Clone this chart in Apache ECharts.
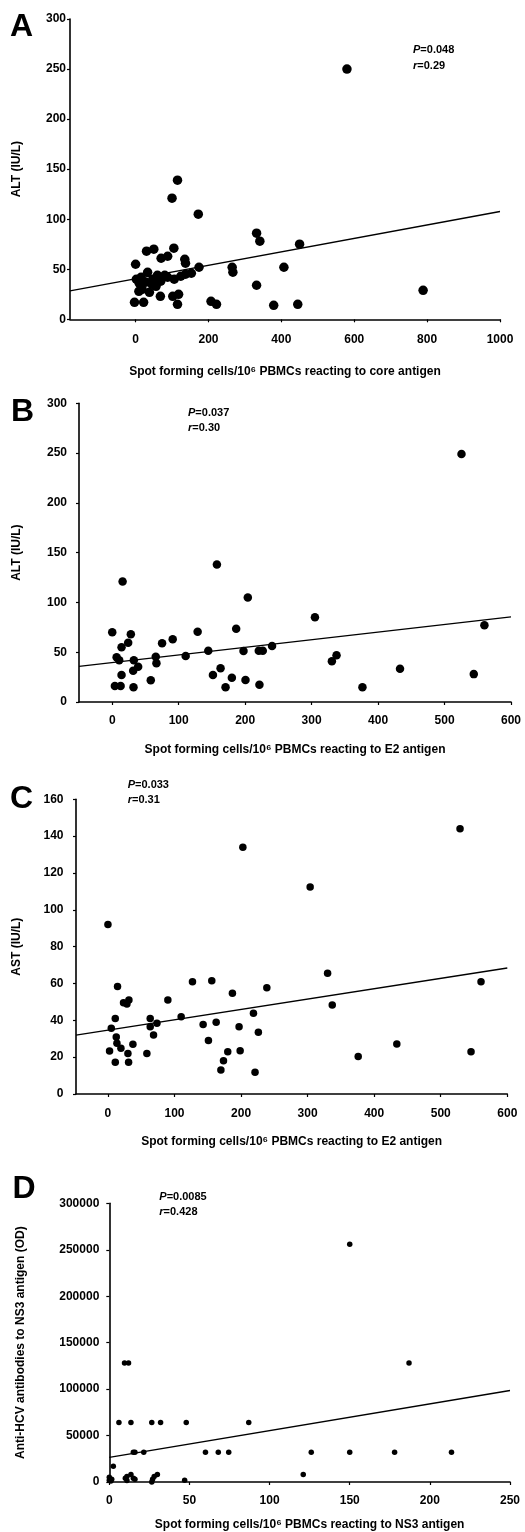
<!DOCTYPE html>
<html><head><meta charset="utf-8">
<script src="https://cdn.jsdelivr.net/npm/echarts@6/dist/echarts.min.js"></script>
<style>html,body{margin:0;padding:0;background:#fff}#c{width:525px;height:1532px}</style>
</head><body><div id="c"></div>
<script>
// ---- Panel A: ALT vs core antigen ----
const pointsA = [[-3,17],[22,17],[0,55],[2,40],[10,36],[9,28],[18,30],[15,42],[28,37],[33,47],[38,27],[30,68],[50,70],[47,40],[56,33],[60,44],[69,38],[70,61],[68,23],[88,63],[88,42],[105,71],[106,40],[100,121],[115,139],[102,23],[118,25],[115,15],[124,43],[135,60],[137,56],[137,45],[153,46],[172,105],[174,52],[265,52],[267,47],[207,18],[222,15],[332,86],[341,78],[332,34],[379,14],[407,52],[445,15],[450,75],[580,250],[789,29],[80,44],[45,35]];
const lineA = [[-180,28.3],[1000,107.7]];
const xTicksA = [0,200,400,600,800,1000];
// ---- Panel B: ALT vs E2 antigen ----
const pointsB = [[157.5,138],[15.6,121],[204,105],[305,85],[0,70],[28,68],[24,59.6],[14,55],[75,59],[91,63],[128.5,70.6],[186.5,73.6],[144.5,51.5],[197.5,51.2],[220.5,51.5],[226.5,51.5],[240.5,56.2],[110.5,46.2],[65.5,45.5],[66.5,38.9],[6.6,45],[10.5,42],[32.5,42],[39,35.5],[31.5,31.4],[14,27],[58,21.8],[151.5,27],[163,33.8],[180,24.4],[200.5,22],[221.5,17.4],[170.5,14.8],[4,16],[12.6,16],[32,14.8],[330.5,41],[337.5,47],[376.5,14.8],[433,33.5],[525.5,249],[544,28],[560,77]];
const lineB = [[-50,35.8],[600,85.4]];
const xTicksB = [0,100,200,300,400,500,600];
// ---- Panel C: AST vs E2 antigen ----
const pointsC = [[0,92],[529,144],[202.7,134],[303.8,112.4],[330,65.5],[560.5,61],[337,48.3],[14.4,58.3],[127,61],[156,61.5],[187,54.7],[238.7,57.7],[90,51],[23.4,49.6],[28.5,48.9],[31.5,51],[11,41],[63.5,41],[73.6,38.4],[63.5,36.5],[68.5,32],[110,42],[143,37.8],[162.6,38.9],[151,29],[197,36.5],[218.6,43.8],[226,33.5],[5,35.7],[12.5,31],[13.5,27.5],[19.5,24.8],[2.4,23.3],[30,22],[37.5,27],[11,17.2],[31,17.2],[58.5,22],[198.6,23.5],[180,23],[173.6,18],[169.7,13],[221,11.8],[376,20.3],[434,27.1],[545.5,23]];
const lineC = [[-48,32],[600,68.4]];
const xTicksC = [0,100,200,300,400,500,600];
// ---- Panel D: anti-HCV vs NS3 antigen ----
const pointsD = [[0,2000],[0,5000],[1,1000],[1.5,3000],[2.5,17000],[10,4000],[11,1500],[11,6000],[13.5,8000],[15,4000],[16,3000],[26.5,0],[27,3000],[28,6000],[30,8000],[47,2000],[6,64000],[13.5,64000],[26.5,64000],[32,64000],[48,64000],[87,64000],[15,32000],[16,32000],[21.5,32000],[60,32000],[68,32000],[74.5,32000],[126,32000],[150,32000],[178,32000],[213.5,32000],[121,8000],[9.5,128000],[12,128000],[187,128000],[150,256000]];
const lineD = [[0,26450],[250,98500]];
const xTicksD = [0,50,100,150,200,250];

const titlesX = [
  'Spot forming cells/10\u2076 PBMCs reacting to core antigen',
  'Spot forming cells/10\u2076 PBMCs reacting to E2 antigen',
  'Spot forming cells/10\u2076 PBMCs reacting to E2 antigen',
  'Spot forming cells/10\u2076 PBMCs reacting to NS3 antigen'
];
const titlesY = ['ALT (IU/L)','ALT (IU/L)','AST (IU/L)','Anti-HCV antibodies to NS3 antigen (OD)'];
const stats = [['0.048','0.29'],['0.037','0.30'],['0.033','0.31'],['0.0085','0.428']];
const letters = ['A','B','C','D'];

const FF = '"Liberation Sans", Arial, sans-serif';
const grids = [
  {left:70, top:19, width:430, height:300.3},
  {left:79, top:403.3, width:432, height:298.7},
  {left:76, top:799.3, width:431.3, height:294.7},
  {left:109.3, top:1203.3, width:400.7, height:279}
];
const xr = [[-180,1000],[-50,600],[-48,600],[0,250]];
const yr = [[0,300,50],[0,300,50],[0,160,20],[0,300000,50000]];
const xt = [xTicksA,xTicksB,xTicksC,xTicksD];
const xLabelMargin = [14,13,14,13];
const yLabelMargin = [4,12,12.5,10];
const xNameGap = [46,42,42,37];
const yNameGap = [47,56,53,83];
const sizes = [9.5,8.5,7.5,5.5];
const pts = [pointsA,pointsB,pointsC,pointsD];
const lines = [lineA,lineB,lineC,lineD];
const statPos = [[413,42.5],[188,405],[127.7,777],[159.3,1189]];
const letterPos = [[21.5,27],[22.5,412],[21.5,799.5],[24,1189]];

const lineStyleAxis = {color:'#000', width:1.6};
const xAxis = [], yAxis = [], series = [], title = [], graphic = [];
for (let i=0;i<4;i++){
  xAxis.push({
    type:'value', gridIndex:i, min:xr[i][0], max:xr[i][1],
    name:titlesX[i], nameLocation:'middle', nameGap:xNameGap[i],
    nameTextStyle:{fontFamily:FF, fontWeight:'bold', fontSize:12, color:'#000'},
    axisLine:{show:true, onZero:false, lineStyle:lineStyleAxis},
    axisTick:{show:true, length:3, inside:false, customValues:xt[i], lineStyle:{color:'#000', width:1.2}},
    axisLabel:{customValues:xt[i], margin:xLabelMargin[i], fontFamily:FF, fontWeight:'bold', fontSize:12, color:'#000', formatter:(v)=>String(v)},
    splitLine:{show:false}
  });
  yAxis.push({
    type:'value', gridIndex:i, min:yr[i][0], max:yr[i][1], interval:yr[i][2],
    name:titlesY[i], nameLocation:'middle', nameGap:yNameGap[i], nameRotate:90,
    nameTextStyle:{fontFamily:FF, fontWeight:'bold', fontSize:12, color:'#000'},
    axisLine:{show:true, onZero:false, lineStyle:lineStyleAxis},
    axisTick:{show:true, length:3, inside:false, lineStyle:{color:'#000', width:1.2}},
    axisLabel:{margin:yLabelMargin[i], fontFamily:FF, fontWeight:'bold', fontSize:12, color:'#000', formatter:(v)=>String(v)},
    splitLine:{show:false}
  });
  series.push({
    type:'scatter', xAxisIndex:i, yAxisIndex:i, data:pts[i], symbol:'circle', symbolSize:sizes[i],
    itemStyle:{color:'#000', opacity:1}, silent:true, z:3
  });
  series.push({
    type:'line', xAxisIndex:i, yAxisIndex:i, data:lines[i], symbol:'none',
    lineStyle:{color:'#000', width:1.3}, silent:true, z:2
  });
  title.push({
    text:'{i|P}=' + stats[i][0] + '\n{i|r}=' + stats[i][1],
    left:statPos[i][0], top:statPos[i][1], padding:0,
    textStyle:{fontFamily:FF, fontWeight:'bold', fontSize:11, color:'#000', lineHeight:15.5,
      rich:{i:{fontFamily:FF, fontWeight:'bold', fontStyle:'italic', fontSize:11, color:'#000', lineHeight:15.5}}}
  });
  graphic.push({
    type:'text', x:letterPos[i][0], y:letterPos[i][1],
    style:{text:letters[i], fontFamily:FF, fontWeight:'bold', fontSize:32, fill:'#000', align:'center', verticalAlign:'middle'}
  });
}

const chart = echarts.init(document.getElementById('c'), null, {renderer:'canvas'});
chart.setOption({
  animation:false, backgroundColor:'#fff',
  grid:grids, xAxis, yAxis, series, title, graphic
});
</script></body></html>
